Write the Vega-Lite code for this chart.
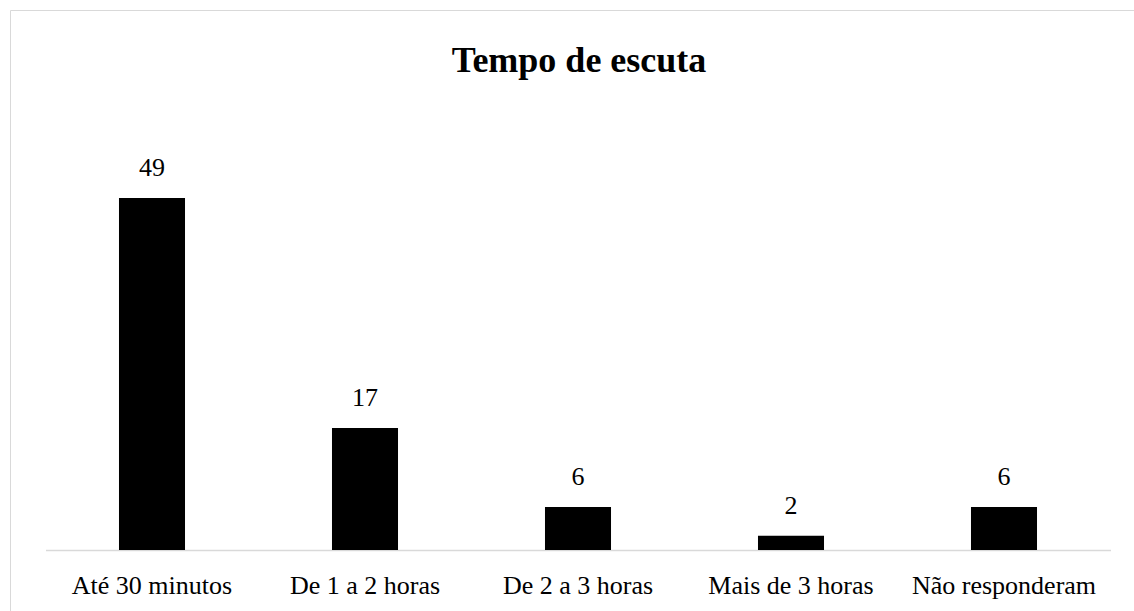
{
  "$schema": "https://vega.github.io/schema/vega-lite/v6.json",
  "autosize": "none",
  "width": 1124,
  "height": 601,
  "padding": {"left": 10, "top": 10, "right": 0, "bottom": 0},
  "background": "white",
  "config": {
    "view": {"stroke": "#d9d9d9", "strokeWidth": 1},
    "font": "Liberation Serif"
  },
  "title": {
    "text": "Tempo de escuta",
    "font": "Liberation Serif",
    "fontSize": 36,
    "fontWeight": "bold",
    "color": "#000000",
    "anchor": "middle",
    "baseline": "alphabetic",
    "offset": -98,
    "dx": 7
  },
  "data": {
    "values": [
      {"categoria": "Até 30 minutos", "valor": 49},
      {"categoria": "De 1 a 2 horas", "valor": 17},
      {"categoria": "De 2 a 3 horas", "valor": 6},
      {"categoria": "Mais de 3 horas", "valor": 2},
      {"categoria": "Não responderam", "valor": 6}
    ]
  },
  "encoding": {
    "x": {
      "field": "categoria",
      "type": "nominal",
      "sort": null,
      "scale": {"range": [35.5, 1100.5], "paddingInner": 0.69, "paddingOuter": 0.345},
      "axis": {
        "title": null,
        "labelAngle": 0,
        "labelFont": "Liberation Serif",
        "labelFontSize": 26,
        "labelColor": "#000000",
        "labelPadding": 22,
        "labelLimit": 400,
        "ticks": false,
        "tickSize": 0,
        "domainColor": "#d9d9d9",
        "domainWidth": 1.5,
        "offset": -61,
        "grid": false
      }
    },
    "y": {
      "field": "valor",
      "type": "quantitative",
      "scale": {"domain": [0, 49], "range": [540, 188], "nice": false, "zero": true},
      "axis": null
    }
  },
  "layer": [
    {"mark": {"type": "bar", "color": "#000000"}},
    {
      "mark": {
        "type": "text",
        "font": "Liberation Serif",
        "fontSize": 26,
        "color": "#000000",
        "baseline": "alphabetic",
        "dy": -21.6
      },
      "encoding": {"text": {"field": "valor", "type": "quantitative"}}
    }
  ]
}
